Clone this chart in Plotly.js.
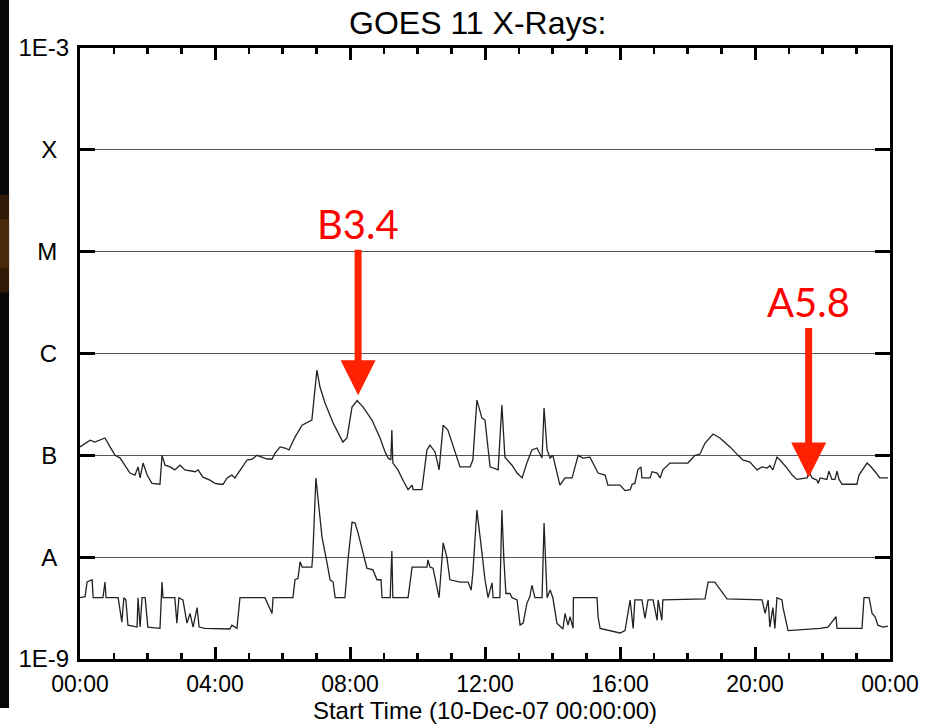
<!DOCTYPE html>
<html>
<head>
<meta charset="utf-8">
<script src="https://cdn.plot.ly/plotly-3.0.1.min.js"></script>
<style>
html,body{margin:0;padding:0;background:#fff;}
#chart{width:939px;height:725px;}
</style>
</head>
<body>
<div id="chart"></div>
<script>
// Long channel (1-8 A), hours since 10-Dec-07 00:00 and flux (W/m^2)
const longTime = [0,0.30,0.44,0.59,0.74,0.89,1.04,1.19,1.33,1.48,1.63,1.72,1.78,1.87,1.99,2.13,2.37,2.43,2.52,2.67,2.81,2.96,3.11,3.41,3.50,3.64,3.85,4.00,4.15,4.24,4.36,4.50,4.59,4.74,4.95,5.10,5.24,5.39,5.54,5.69,5.78,5.93,6.07,6.19,6.37,6.58,6.76,6.87,6.90,7.02,7.11,7.26,7.50,7.79,7.91,8.06,8.21,8.39,8.65,8.89,9.04,9.13,9.21,9.24,9.27,9.42,9.57,9.72,9.84,9.87,10.13,10.28,10.37,10.52,10.64,10.73,10.76,10.90,11.17,11.26,11.56,11.64,11.76,11.91,12.00,12.15,12.39,12.50,12.59,12.80,12.95,13.10,13.24,13.39,13.54,13.69,13.75,13.84,13.93,14.01,14.22,14.37,14.58,14.76,14.90,15.11,15.35,15.56,15.64,16.00,16.15,16.30,16.36,16.44,16.53,16.62,16.65,16.89,16.95,17.10,17.19,17.27,17.48,18.01,18.22,18.37,18.52,18.76,18.96,19.26,19.50,19.64,19.85,20.06,20.21,20.36,20.44,20.53,20.65,20.74,20.95,21.10,21.24,21.54,21.60,21.69,21.84,21.87,21.93,22.13,22.19,22.28,22.37,22.43,22.49,22.58,23.02,23.08,23.32,23.41,23.56,23.64,23.70,23.94];
const longFlux = [1.21e-7,1.41e-7,1.35e-7,1.41e-7,1.48e-7,1.21e-7,1.00e-7,0.94e-7,0.80e-7,0.67e-7,0.64e-7,0.77e-7,0.60e-7,0.84e-7,0.64e-7,0.53e-7,0.52e-7,1.00e-7,0.80e-7,0.77e-7,0.72e-7,0.80e-7,0.72e-7,0.69e-7,0.72e-7,0.61e-7,0.57e-7,0.53e-7,0.52e-7,0.52e-7,0.60e-7,0.64e-7,0.60e-7,0.72e-7,0.90e-7,0.92e-7,1.00e-7,0.96e-7,0.92e-7,0.92e-7,1.05e-7,1.21e-7,1.18e-7,1.13e-7,1.51e-7,1.98e-7,2.12e-7,2.22e-7,2.78e-7,6.88e-7,4.69e-7,3.26e-7,2.08e-7,1.35e-7,1.48e-7,2.98e-7,3.45e-7,2.98e-7,2.22e-7,1.48e-7,1.08e-7,0.94e-7,0.90e-7,1.77e-7,0.84e-7,0.72e-7,0.57e-7,0.46e-7,0.51e-7,0.46e-7,0.46e-7,1.13e-7,1.26e-7,1.08e-7,0.72e-7,1.41e-7,1.98e-7,1.77e-7,0.96e-7,0.77e-7,0.77e-7,0.90e-7,3.49e-7,2.32e-7,2.22e-7,0.77e-7,0.72e-7,3.12e-7,0.96e-7,0.80e-7,0.67e-7,0.60e-7,0.84e-7,1.13e-7,1.18e-7,0.94e-7,2.91e-7,1.13e-7,0.94e-7,1.00e-7,0.51e-7,0.60e-7,0.60e-7,1.00e-7,0.94e-7,0.96e-7,0.67e-7,0.64e-7,0.51e-7,0.51e-7,0.45e-7,0.46e-7,0.52e-7,0.53e-7,0.72e-7,0.77e-7,0.60e-7,0.60e-7,0.69e-7,0.67e-7,0.60e-7,0.72e-7,0.84e-7,0.84e-7,1.00e-7,1.03e-7,1.32e-7,1.62e-7,1.48e-7,1.21e-7,1.00e-7,0.90e-7,0.86e-7,0.72e-7,0.77e-7,0.75e-7,0.79e-7,0.72e-7,0.96e-7,0.90e-7,0.75e-7,0.64e-7,0.58e-7,0.60e-7,0.69e-7,0.60e-7,0.57e-7,0.53e-7,0.60e-7,0.58e-7,0.70e-7,0.58e-7,0.58e-7,0.70e-7,0.58e-7,0.52e-7,0.52e-7,0.64e-7,0.84e-7,0.79e-7,0.69e-7,0.63e-7,0.60e-7,0.60e-7];

// Short channel (0.5-4 A)
const shortTime = [0,0.15,0.21,0.36,0.39,0.68,0.74,0.77,1.13,1.24,1.30,1.36,1.42,1.69,1.72,1.78,1.84,1.93,2.01,2.37,2.43,2.46,2.81,2.87,2.93,3.05,3.17,3.26,3.35,3.47,3.53,3.70,4.44,4.50,4.65,4.74,5.48,5.69,5.72,6.31,6.37,6.46,6.52,6.58,6.87,6.90,6.99,7.05,7.17,7.32,7.41,7.50,7.56,7.85,7.94,8.06,8.15,8.24,8.39,8.50,8.68,8.80,8.92,8.95,9.19,9.24,9.27,9.72,9.84,10.28,10.31,10.37,10.46,10.58,10.64,10.73,10.76,10.87,10.96,11.26,11.50,11.59,11.64,11.76,11.85,11.91,12.00,12.09,12.21,12.24,12.44,12.50,12.56,12.62,12.74,12.80,12.95,13.04,13.13,13.24,13.33,13.39,13.48,13.69,13.75,13.84,13.93,14.01,14.13,14.31,14.37,14.46,14.52,14.61,14.62,15.32,15.35,15.41,16.00,16.15,16.30,16.39,16.44,16.65,16.74,16.83,16.98,17.10,17.13,17.24,17.27,18.52,18.61,18.81,19.17,20.21,20.30,20.39,20.44,20.53,20.59,20.65,20.80,20.83,20.98,21.93,22.16,22.40,22.43,22.90,23.17,23.23,23.38,23.47,23.56,23.64,23.79,23.94];
const shortFlux = [0.40e-8,0.41e-8,0.57e-8,0.60e-8,0.40e-8,0.40e-8,0.57e-8,0.40e-8,0.40e-8,0.23e-8,0.40e-8,0.38e-8,0.215e-8,0.206e-8,0.40e-8,0.206e-8,0.40e-8,0.40e-8,0.206e-8,0.20e-8,0.57e-8,0.40e-8,0.40e-8,0.225e-8,0.40e-8,0.38e-8,0.225e-8,0.28e-8,0.206e-8,0.32e-8,0.206e-8,0.20e-8,0.197e-8,0.215e-8,0.20e-8,0.40e-8,0.40e-8,0.28e-8,0.40e-8,0.40e-8,0.60e-8,0.62e-8,0.90e-8,0.80e-8,0.80e-8,1.10e-8,5.98e-8,3.64e-8,1.58e-8,0.875e-8,0.60e-8,0.57e-8,0.40e-8,0.40e-8,0.94e-8,2.21e-8,2.16e-8,1.72e-8,1.10e-8,0.78e-8,0.75e-8,0.60e-8,0.60e-8,0.40e-8,0.40e-8,1.15e-8,0.40e-8,0.40e-8,0.80e-8,0.80e-8,0.94e-8,0.80e-8,0.78e-8,0.51e-8,0.40e-8,1.00e-8,1.38e-8,1.00e-8,0.60e-8,0.57e-8,0.57e-8,0.475e-8,0.70e-8,2.90e-8,1.72e-8,1.10e-8,0.60e-8,0.40e-8,0.56e-8,0.40e-8,0.40e-8,2.90e-8,0.94e-8,0.44e-8,0.44e-8,0.40e-8,0.38e-8,0.215e-8,0.225e-8,0.35e-8,0.41e-8,0.53e-8,0.40e-8,0.40e-8,2.16e-8,0.40e-8,0.475e-8,0.40e-8,0.225e-8,0.197e-8,0.28e-8,0.215e-8,0.26e-8,0.20e-8,0.40e-8,0.40e-8,0.26e-8,0.20e-8,0.18e-8,0.19e-8,0.38e-8,0.20e-8,0.38e-8,0.38e-8,0.25e-8,0.38e-8,0.38e-8,0.24e-8,0.38e-8,0.24e-8,0.38e-8,0.39e-8,0.57e-8,0.57e-8,0.39e-8,0.38e-8,0.28e-8,0.38e-8,0.206e-8,0.32e-8,0.20e-8,0.40e-8,0.38e-8,0.32e-8,0.19e-8,0.20e-8,0.206e-8,0.26e-8,0.20e-8,0.20e-8,0.20e-8,0.40e-8,0.40e-8,0.28e-8,0.26e-8,0.215e-8,0.206e-8,0.21e-8];

// Axis ticks
const xTickVals = [0,4,8,12,16,20,24];
const xTickText = ['00:00','04:00','08:00','12:00','16:00','20:00','00:00'];
const yTickVals = [1e-9,1e-8,1e-7,1e-6,1e-5,1e-4,1e-3];
const yTickText = ['1E-9','A\u2002','B\u2002','C\u2002','M\u2002','X\u2002','1E-3'];

// Flare class callouts
const flareLabels = ['B3.4','A5.8'];
const flareTime = [8.24, 21.59];
const flareFlux = [3.4e-7, 5.8e-8];

const traces = [
  {x: longTime, y: longFlux, type:'scatter', mode:'lines', line:{color:'#222', width:1.3}, hoverinfo:'skip'},
  {x: shortTime, y: shortFlux, type:'scatter', mode:'lines', line:{color:'#222', width:1.3}, hoverinfo:'skip'}
];

const annotations = flareLabels.map((t,i)=>({
  x: flareTime[i], y: Math.log10(flareFlux[i]), xref:'x', yref:'y',
  text: t, showarrow:true, arrowhead:2, arrowsize:1, arrowwidth:7,
  arrowcolor:'#ff2200', ax:0, ay:-177, standoff: i===0?6:2,
  font:{family:'Lato, "Open Sans", sans-serif', size:40, color:'#ff0000'}
}));

const layout = {
  width:939, height:725,
  margin:{l:80, r:49, t:48, b:66},
  paper_bgcolor:'#ffffff', plot_bgcolor:'#ffffff',
  showlegend:false,
  font:{family:'"Liberation Sans", Arial, sans-serif', color:'#000'},
  title:{text:'GOES 11 X-Rays:', x:0.491, xref:'paper', xanchor:'center', y:0.968, yref:'container', yanchor:'middle', font:{size:32, color:'#000'}},
  xaxis:{
    range:[0,24], tickmode:'array', tickvals:xTickVals, ticktext:xTickText,
    ticks:'inside', ticklen:12, tickwidth:3, tickcolor:'#000',
    minor:{dtick:1, ticks:'inside', ticklen:6, tickwidth:2.5, tickcolor:'#000'},
    showline:true, linewidth:3, linecolor:'#000', mirror:'ticks',
    showgrid:false, zeroline:false,
    tickfont:{size:23}, ticklabelstandoff:2,
    title:{text:'Start Time (10-Dec-07 00:00:00)', font:{size:24}, standoff:3}
  },
  yaxis:{
    type:'log', range:[-9,-3], tickmode:'array', tickvals:yTickVals, ticktext:yTickText,
    ticks:'inside', ticklen:15, tickwidth:3, tickcolor:'#000',
    showline:true, linewidth:3, linecolor:'#000', mirror:'ticks',
    showgrid:true, gridcolor:'#555', gridwidth:1, zeroline:false,
    tickfont:{size:24}, ticklabelstandoff:3
  },
  annotations: annotations,
  shapes:[
    {type:'rect', xref:'paper', yref:'paper', x0:-0.0988, x1:-0.0876, y0:-0.08, y1:1.08, fillcolor:'#080808', line:{width:0}, layer:'below'},
    {type:'rect', xref:'paper', yref:'paper', x0:-0.0988, x1:-0.0876, y0:0.60, y1:0.76, fillcolor:'#2e1a06', line:{width:0}, layer:'below'},
    {type:'rect', xref:'paper', yref:'paper', x0:-0.0988, x1:-0.0876, y0:0.64, y1:0.72, fillcolor:'#4a2a08', line:{width:0}, layer:'below'}
  ]
};

Plotly.newPlot('chart', traces, layout, {displayModeBar:false, staticPlot:true});
</script>
</body>
</html>
